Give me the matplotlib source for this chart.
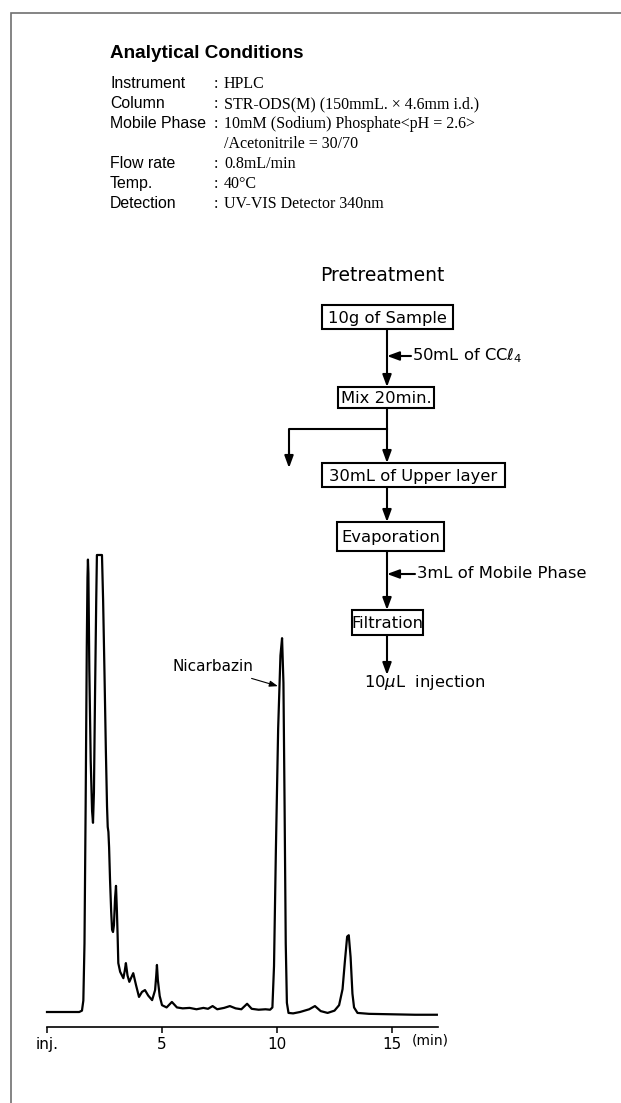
import numpy as np
import matplotlib.pyplot as plt

# chromatogram trace (time in min, detector signal in arbitrary units, 100 = full scale)
rt_min = [0.00, 1.40, 1.52, 1.58, 1.63, 1.68, 1.73, 1.76, 1.78, 1.80, 1.84, 1.90, 1.96, 2.00,
          2.04, 2.09, 2.14, 2.17, 2.39, 2.44, 2.50, 2.56, 2.61, 2.64, 2.67, 2.70, 2.74, 2.79,
          2.83, 2.87, 2.91, 2.96, 3.00, 3.04, 3.07, 3.10, 3.18, 3.25, 3.32, 3.38, 3.43, 3.50,
          3.58, 3.66, 3.75, 3.81, 3.87, 4.00, 4.13, 4.26, 4.40, 4.57, 4.70, 4.75, 4.78, 4.82,
          4.90, 5.00, 5.20, 5.43, 5.65, 5.90, 6.20, 6.50, 6.80, 7.00, 7.20, 7.40, 7.70, 7.95,
          8.20, 8.45, 8.70, 8.90, 9.20, 9.50, 9.70, 9.80, 9.87, 9.95, 10.05, 10.15, 10.22,
          10.28, 10.33, 10.38, 10.43, 10.50, 10.70, 11.00, 11.40, 11.65, 11.90, 12.20, 12.50,
          12.70, 12.85, 12.95, 13.05, 13.12, 13.20, 13.28, 13.35, 13.50, 14.00, 15.00, 16.00, 16.95]
signal = [0.0, 0.0, 0.3, 2.5, 15.0, 45.0, 80.0, 95.0, 99.0, 96.0, 75.0, 55.0, 44.0, 41.4,
          48.0, 70.0, 90.0, 100.0, 100.0, 90.0, 74.0, 57.0, 45.0, 40.5, 39.4, 36.0, 29.0, 22.0,
          18.0, 17.5, 19.0, 25.0, 27.6, 22.0, 16.8, 10.7, 8.8, 8.1, 7.4, 9.0, 10.7, 8.0,
          6.6, 7.5, 8.5, 7.2, 5.9, 3.3, 4.4, 4.8, 3.6, 2.6, 4.8, 8.0, 10.3, 7.0,
          3.5, 1.5, 1.0, 2.2, 1.0, 0.8, 0.9, 0.6, 0.9, 0.7, 1.3, 0.6, 0.9, 1.3,
          0.8, 0.6, 1.8, 0.7, 0.5, 0.6, 0.5, 1.0, 10.0, 35.0, 62.0, 78.0, 81.8,
          72.0, 45.0, 15.0, 2.0, -0.2, -0.3, 0.0, 0.6, 1.3, 0.2, -0.2, 0.3,
          1.5, 5.0, 11.0, 16.5, 16.8, 12.0, 4.0, 1.0, -0.2, -0.4, -0.5, -0.6, -0.6]

tick_pos = [0, 5, 10, 15]
tick_labels = ["inj.", "5", "10", "15"]

cond_names = ["Instrument", "Column", "Mobile Phase", "", "Flow rate", "Temp.", "Detection"]
cond_values = ["HPLC", "STR-ODS(M) (150mmL. \u00d7 4.6mm i.d.)",
               "10mM (Sodium) Phosphate<pH = 2.6>", "/Acetonitrile = 30/70",
               "0.8mL/min", "40\u00b0C", "UV-VIS Detector 340nm"]

steps = ["10g of Sample", "Mix 20min.", "30mL of Upper layer", "Evaporation", "Filtration"]

W, H = 621, 1103
fig = plt.figure(figsize=(W / 100, H / 100), dpi=100)

# overlay in pixel coordinates for the frame, text block and flow chart
ax0 = fig.add_axes([0, 0, 1, 1])
ax0.set_xlim(0, W)
ax0.set_ylim(H, 0)
ax0.axis("off")

ax0.plot([10.5, 10.5, W], [H, 12.5, 12.5], color="#707070", lw=1.2, solid_joinstyle="miter")

# analytical conditions
ax0.text(110, 57.5, "Analytical Conditions", fontsize=13.6, fontweight="bold",
         family="Liberation Sans", va="baseline")
for i, (nm, val) in enumerate(zip(cond_names, cond_values)):
    yb = 88 + 20 * i
    if nm:
        ax0.text(110, yb, nm, fontsize=11.4, family="Liberation Sans", va="baseline")
        ax0.text(214, yb, ":", fontsize=11.5, family="Liberation Serif", va="baseline")
    ax0.text(224, yb, val, fontsize=11.5, family="Liberation Serif", va="baseline")

# pretreatment flow chart
ax0.text(320, 281, "Pretreatment", fontsize=13.5, family="DejaVu Sans", va="baseline")

boxes = [(322, 453, 305, 329), (338, 434, 387, 408), (322, 505, 463, 487),
         (337, 444, 522, 551), (352, 423, 610, 635)]
for lab, (x0, x1, y0, y1) in zip(steps, boxes):
    ax0.add_patch(plt.Rectangle((x0, y0), x1 - x0, y1 - y0, fill=False, lw=1.5, ec="k"))
    ax0.text((x0 + x1) / 2, (y0 + y1) / 2 + 5.5, lab, fontsize=11.8, family="DejaVu Sans",
             ha="center", va="baseline")

aprops = dict(arrowstyle="-|>,head_length=0.6,head_width=0.22", lw=1.5, color="k",
              mutation_scale=12, shrinkA=0, shrinkB=0)

def arrow(x0, y0, x1, y1):
    ax0.annotate("", xy=(x1, y1), xytext=(x0, y0), arrowprops=aprops)

arrow(387, 329, 387, 387)
arrow(387, 408, 387, 463)
arrow(387, 487, 387, 522)
arrow(387, 551, 387, 610)
arrow(387, 635, 387, 675)
arrow(411, 356, 387, 356)
arrow(415, 574, 387, 574)
ax0.plot([387, 289, 289], [429, 429, 455], color="k", lw=1.5)
arrow(289, 450, 289, 468)

ax0.text(412, 356, r"50mL of CC$\ell_4$", fontsize=11.8, family="DejaVu Sans", va="center")
ax0.text(417, 574, "3mL of Mobile Phase", fontsize=11.8, family="DejaVu Sans", va="center")
ax0.text(364, 687, r"10$\mu$L  injection", fontsize=11.8, family="DejaVu Sans", va="baseline")

# chromatogram
ax = fig.add_axes([47 / W, (H - 1027) / H, 391 / W, (1027 - 555) / H])
ax.patch.set_alpha(0)
ax.plot(rt_min, signal, color="k", lw=1.6, clip_on=False, solid_joinstyle="round")
ax.set_xlim(0, 17)
ax.set_ylim(-3.28, 100)
for s in ["top", "right", "left"]:
    ax.spines[s].set_visible(False)
ax.spines["bottom"].set_linewidth(1.2)
ax.set_yticks([])
ax.set_xticks(tick_pos)
ax.set_xticklabels(tick_labels, family="DejaVu Sans", fontsize=11)
ax.tick_params(axis="x", direction="out", length=4.5, width=1.1, pad=3)

ax.annotate("Nicarbazin", xy=(10.04, 71.3), xytext=(8.96, 75.5), ha="right", va="center",
            fontsize=11, family="DejaVu Sans",
            arrowprops=dict(arrowstyle="-|>,head_length=0.5,head_width=0.18", lw=0.8,
                            color="k", mutation_scale=10, shrinkA=3, shrinkB=0))

ax0.text(412, 1040, "(min)", fontsize=10, family="DejaVu Sans", va="center")

fig.savefig("out.png", dpi=100)
